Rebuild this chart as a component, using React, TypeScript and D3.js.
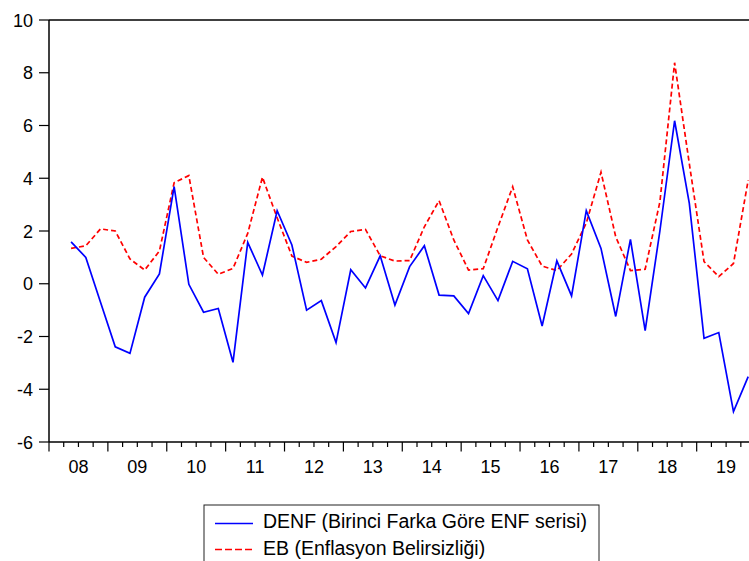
import * as d3 from 'd3';

// quarterly, 2008Q2 .. 2019Q4
const denf = [
  1.59, 1.0, -0.7, -2.39, -2.64, -0.51, 0.37, 3.68, -0.02, -1.08, -0.94, -2.98,
  1.57, 0.33, 2.77, 1.47, -1.0, -0.64, -2.23, 0.53, -0.16, 1.06, -0.81, 0.65,
  1.44, -0.43, -0.46, -1.13, 0.31, -0.64, 0.85, 0.57, -1.6, 0.87, -0.46, 2.77,
  1.34, -1.24, 1.68, -1.78, 2.0, 6.18, 3.05, -2.07, -1.85, -4.85, -3.52,
];
const eb = [
  1.34, 1.44, 2.08, 2.0, 0.94, 0.52, 1.24, 3.83, 4.1, 1.0, 0.36, 0.58,
  1.91, 4.04, 2.5, 1.05, 0.81, 0.93, 1.41, 1.98, 2.06, 1.06, 0.86, 0.88,
  2.16, 3.15, 1.66, 0.52, 0.57, 2.15, 3.68, 1.66, 0.67, 0.5, 1.13, 2.3,
  4.23, 1.78, 0.5, 0.55, 3.1, 8.38, 4.55, 0.84, 0.27, 0.77, 3.93,
];
const years = ['08', '09', '10', '11', '12', '13', '14', '15', '16', '17', '18', '19'];
const yTicks = [-6, -4, -2, 0, 2, 4, 6, 8, 10];
const legendLabels = ['DENF (Birinci Farka Göre ENF serisi)', 'EB (Enflasyon Belirsizliği)'];

const W = 749;
const H = 561;
const left = 49;
const top = 20;
const bottom = 442;
const qw = 14.72;
const font = 'Arial, "Liberation Sans", sans-serif';

const App = () => {
  const x = d3.scaleLinear().domain([0, 48]).range([left, left + 48 * qw]);
  const y = d3.scaleLinear().domain([-6, 10]).range([bottom, top]);

  const line = d3
    .line<number>()
    .x((d, i) => x(i + 1.5))
    .y((d) => y(d));

  const quarters = d3.range(0, 49);

  return (
    <div style={{ position: 'absolute', left: 0, top: 0 }}>
      <svg width={W} height={H} style={{ display: 'block', fontFamily: font }}>
        <rect width={W} height={H} fill='white' />
        {/* frame */}
        <line x1={left} x2={x(48)} y1={top} y2={top} stroke='black' strokeWidth={1.5} />
        <line x1={left} x2={x(48)} y1={bottom} y2={bottom} stroke='black' strokeWidth={1.5} />
        <line x1={left} x2={left} y1={top} y2={bottom} stroke='black' strokeWidth={1.5} />
        <line x1={x(48)} x2={x(48)} y1={top} y2={bottom} stroke='black' strokeWidth={1.5} />

        {/* y axis */}
        {yTicks.map((t) => (
          <g key={t}>
            <line x1={left - 10} x2={left} y1={y(t)} y2={y(t)} stroke='black' strokeWidth={1.2} />
            <text x={33} y={y(t) + 6.5} textAnchor='end' fontSize={18} fill='black'>
              {t}
            </text>
          </g>
        ))}

        {/* x axis */}
        {quarters.map((q) => (
          <line
            key={q}
            x1={x(q)}
            x2={x(q)}
            y1={bottom}
            y2={bottom + (q % 4 === 0 ? 9.5 : 5)}
            stroke='black'
            strokeWidth={1.2}
          />
        ))}
        {years.map((yr, k) => (
          <text key={yr} x={x(4 * k + 2)} y={473} textAnchor='middle' fontSize={18} fill='black'>
            {yr}
          </text>
        ))}

        {/* series */}
        <path d={line(eb) ?? ''} fill='none' stroke='#ff0000' strokeWidth={1.7} strokeDasharray='5,3' />
        <path d={line(denf) ?? ''} fill='none' stroke='#0000ff' strokeWidth={1.7} />

        {/* legend */}
        <rect x={204} y={505} width={395} height={70} fill='white' stroke='#222' strokeWidth={1} />
        <line x1={215} x2={253} y1={523.5} y2={523.5} stroke='#0000ff' strokeWidth={1.6} />
        <line x1={215} x2={253} y1={549.5} y2={549.5} stroke='#ff0000' strokeWidth={1.6} strokeDasharray='7,3' />
        <text x={263} y={528} fontSize={19.5} fill='black'>
          {legendLabels[0]}
        </text>
        <text x={263} y={555} fontSize={19.5} fill='black'>
          {legendLabels[1]}
        </text>
      </svg>
    </div>
  );
};

export default App;
